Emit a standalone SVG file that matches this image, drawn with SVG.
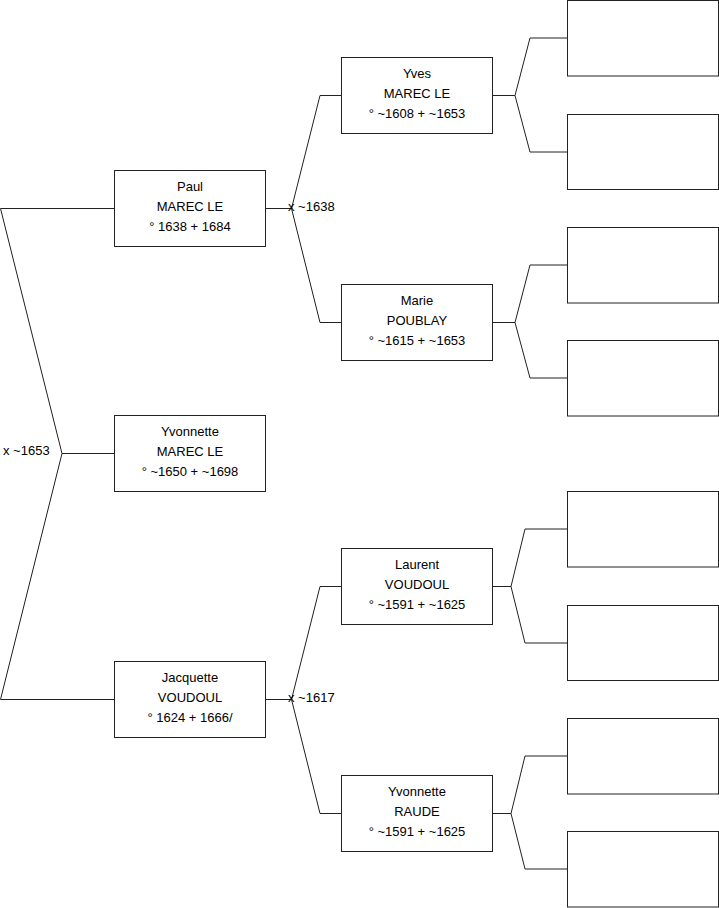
<svg xmlns="http://www.w3.org/2000/svg" width="719" height="908" viewBox="0 0 719 908">
<style>
rect.box{fill:#fff;stroke:#222;stroke-width:1}
text{font-family:"Liberation Sans",Arial,sans-serif;font-size:13px;fill:#000}
text.c{text-anchor:middle}
.conn path{fill:none;stroke:#222;stroke-width:1}
</style>
<rect width="719" height="908" fill="#fff"/>
<g class="conn" id="connectors">
<path d="M114.5,208.5 H0.5 L62,453.5 L0.5,699.5 H114.5 M62,453.5 H114.5"/>
<path d="M265.5,208.5 H291.5 L320,95.5 H341.5 M291.5,208.5 L320,322.5 H341.5"/>
<path d="M265.5,699.5 H291.5 L320,586.5 H341.5 M291.5,699.5 L320,813.5 H341.5"/>
<path d="M492.5,95.5 H515 L530,38 H567.5 M515,95.5 L530,152 H567.5"/>
<path d="M492.5,322.5 H515 L530,265 H567.5 M515,322.5 L530,378 H567.5"/>
<path d="M492.5,586.5 H511 L525,529 H567.5 M511,586.5 L525,643 H567.5"/>
<path d="M492.5,813.5 H511 L525,756 H567.5 M511,813.5 L525,869 H567.5"/>
<text x="3" y="455">x ~1653</text>
<text x="288" y="211">x ~1638</text>
<text x="288" y="702">x ~1617</text>
</g>
<g id="paul"><rect class="box" x="114.5" y="170.5" width="151" height="76"/>
<text class="c" x="190" y="191">Paul</text><text class="c" x="190" y="211">MAREC LE</text><text class="c" x="190" y="230.5">° 1638 + 1684</text></g>
<g id="yvonnette-marec"><rect class="box" x="114.5" y="415.5" width="151" height="76"/>
<text class="c" x="190" y="436">Yvonnette</text><text class="c" x="190" y="456">MAREC LE</text><text class="c" x="190" y="475.5">° ~1650 + ~1698</text></g>
<g id="jacquette"><rect class="box" x="114.5" y="661.5" width="151" height="76"/>
<text class="c" x="190" y="682">Jacquette</text><text class="c" x="190" y="702">VOUDOUL</text><text class="c" x="190" y="721.5">° 1624 + 1666/</text></g>
<g id="yves"><rect class="box" x="341.5" y="57.5" width="151" height="76"/>
<text class="c" x="417" y="78">Yves</text><text class="c" x="417" y="98">MAREC LE</text><text class="c" x="417" y="117.5">° ~1608 + ~1653</text></g>
<g id="marie"><rect class="box" x="341.5" y="284.5" width="151" height="76"/>
<text class="c" x="417" y="305">Marie</text><text class="c" x="417" y="325">POUBLAY</text><text class="c" x="417" y="344.5">° ~1615 + ~1653</text></g>
<g id="laurent"><rect class="box" x="341.5" y="548.5" width="151" height="76"/>
<text class="c" x="417" y="569">Laurent</text><text class="c" x="417" y="589">VOUDOUL</text><text class="c" x="417" y="608.5">° ~1591 + ~1625</text></g>
<g id="yvonnette-raude"><rect class="box" x="341.5" y="775.5" width="151" height="76"/>
<text class="c" x="417" y="796">Yvonnette</text><text class="c" x="417" y="816">RAUDE</text><text class="c" x="417" y="835.5">° ~1591 + ~1625</text></g>
<g id="g3-1"><rect class="box" x="567.5" y="0.5" width="151" height="75.5"/></g>
<g id="g3-2"><rect class="box" x="567.5" y="114.5" width="151" height="75"/></g>
<g id="g3-3"><rect class="box" x="567.5" y="227.5" width="151" height="75.5"/></g>
<g id="g3-4"><rect class="box" x="567.5" y="340.5" width="151" height="75.5"/></g>
<g id="g3-5"><rect class="box" x="567.5" y="491.5" width="151" height="75.5"/></g>
<g id="g3-6"><rect class="box" x="567.5" y="605.5" width="151" height="75"/></g>
<g id="g3-7"><rect class="box" x="567.5" y="718.5" width="151" height="75.5"/></g>
<g id="g3-8"><rect class="box" x="567.5" y="831.5" width="151" height="75.5"/></g>
</svg>
